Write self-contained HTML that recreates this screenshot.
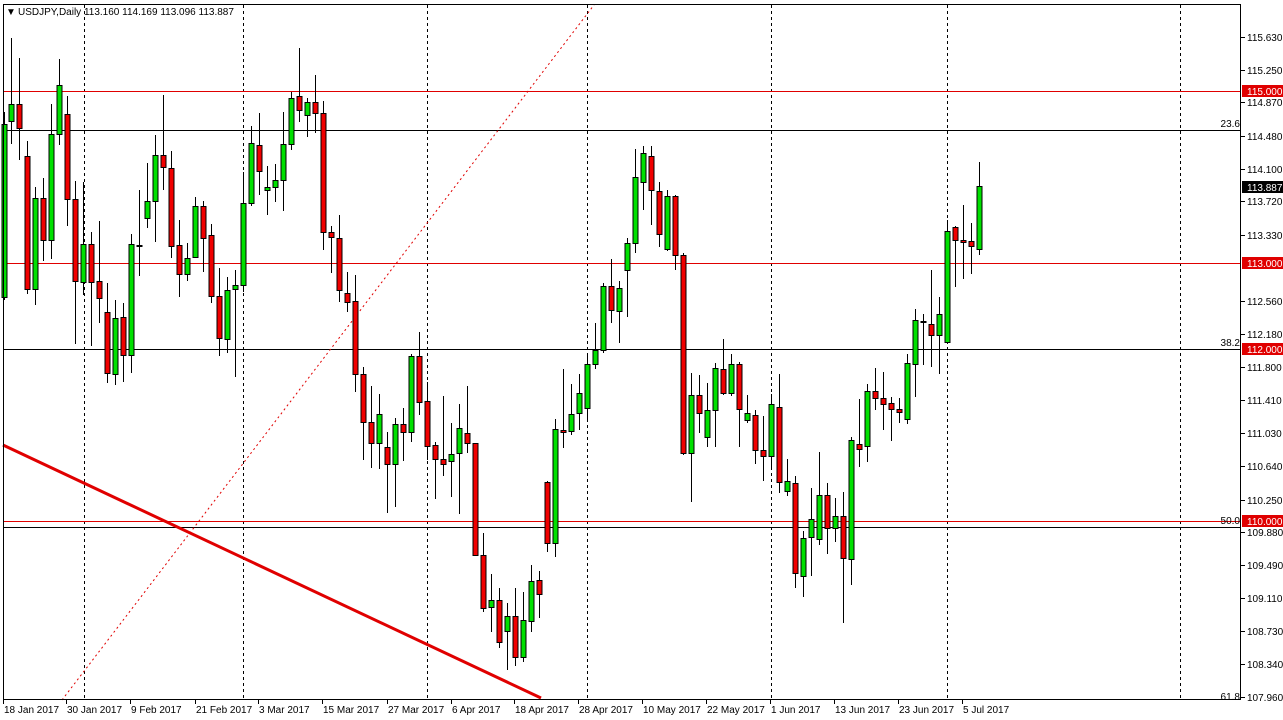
<!DOCTYPE html>
<html><head><meta charset="utf-8"><style>
body{margin:0;background:#fff;}
svg{display:block;font-family:"Liberation Sans",sans-serif;}
</style></head><body>
<svg id="c" width="1283" height="720" xmlns="http://www.w3.org/2000/svg">
<rect width="1283" height="720" fill="#fff"/>
<g id="grid"></g>
<line x1="3" y1="91.5" x2="1241" y2="91.5" stroke="#e00000" stroke-width="1"/>
<line x1="3" y1="130.5" x2="1241" y2="130.5" stroke="#000" stroke-width="1"/>
<line x1="3" y1="263.5" x2="1241" y2="263.5" stroke="#e00000" stroke-width="1"/>
<line x1="3" y1="349.5" x2="1241" y2="349.5" stroke="#000" stroke-width="1"/>
<line x1="3" y1="521.5" x2="1241" y2="521.5" stroke="#e00000" stroke-width="1"/>
<line x1="3" y1="527.5" x2="1241" y2="527.5" stroke="#000" stroke-width="1"/>
<line x1="62" y1="700" x2="594" y2="5" stroke="#e00000" stroke-width="1" stroke-dasharray="2,3"/>
<line x1="3" y1="445" x2="541" y2="698" stroke="#e00000" stroke-width="3"/>
<g id="candles"></g>
<rect x="3.5" y="4.5" width="1237" height="695" fill="none" stroke="#000"/>
<text x="1240" y="127" font-size="10" text-anchor="end">23.6</text>
<text x="1240" y="346" font-size="10" text-anchor="end">38.2</text>
<text x="1240" y="524" font-size="10" text-anchor="end">50.0</text>
<text x="1240" y="700" font-size="10" text-anchor="end">61.8</text>
<g id="axis" font-size="10"></g>
<text x="6" y="15" font-size="10">▼</text>
<text x="18" y="15" font-size="10">USDJPY,Daily  113.160 114.169 113.096 113.887</text>
</svg>
<script>
var NS="http://www.w3.org/2000/svg";
function el(p,t,a,txt){var e=document.createElementNS(NS,t);for(var k in a)e.setAttribute(k,a[k]);if(txt!=null)e.textContent=txt;p.appendChild(e);return e;}
var grid=document.getElementById('grid');
[84,243,427,587,771,947,1180].forEach(function(x){el(grid,'line',{x1:x+.5,y1:5,x2:x+.5,y2:700,stroke:'#000','stroke-dasharray':'3,3'});});
var C=[
[4,112,124,297,300,'g'],[11,38,104,121,144,'g'],[19,58,104,128,160,'r'],[27,141,156,289,294,'r'],[35,187,198,289,305,'g'],
[43,178,198,240,261,'r'],[51,104,134,240,259,'g'],[59,59,85,134,145,'g'],[67,96,114,199,226,'r'],[75,181,199,281,344,'r'],
[83,182,244,282,295,'g'],[91,232,244,282,346,'r'],[99,221,281,298,323,'r'],[107,283,312,373,383,'r'],[115,300,318,374,385,'g'],
[123,303,317,355,382,'r'],[131,234,244,355,373,'g'],[139,190,245,246,276,'r'],[147,163,201,218,228,'g'],[155,135,155,201,242,'g'],
[163,95,155,167,190,'r'],[171,151,168,246,258,'r'],[179,220,245,274,297,'r'],[187,243,258,274,281,'g'],[195,197,206,257,258,'g'],
[203,201,206,238,272,'r'],[211,224,235,296,303,'r'],[219,268,296,338,356,'r'],[227,277,290,339,353,'g'],[235,270,285,289,377,'g'],
[243,172,203,285,292,'g'],[251,126,143,203,206,'g'],[259,113,145,171,195,'r'],[267,166,187,190,215,'g'],[275,164,180,187,202,'g'],
[283,112,144,180,211,'g'],[291,92,98,144,150,'g'],[299,48,96,110,122,'r'],[307,98,102,115,137,'g'],[315,75,102,113,133,'r'],
[323,101,113,232,250,'r'],[331,226,232,237,273,'r'],[339,215,238,290,302,'r'],[347,272,293,302,312,'r'],[355,275,301,374,392,'r'],
[363,367,374,422,460,'r'],[371,386,422,443,468,'r'],[379,394,414,443,469,'g'],[387,432,447,464,513,'r'],[395,418,424,464,507,'g'],
[403,408,424,432,461,'r'],[411,354,356,432,442,'g'],[419,332,356,402,415,'r'],[427,382,401,446,460,'r'],[435,442,445,459,499,'r'],
[443,396,459,464,476,'r'],[451,423,454,461,497,'g'],[459,404,428,453,514,'g'],[467,386,433,443,453,'r'],[475,443,443,555,555,'r'],
[483,533,555,608,612,'r'],[491,574,600,607,632,'g'],[499,588,600,642,648,'r'],[507,603,616,631,670,'g'],[515,588,616,657,666,'r'],
[523,592,620,657,662,'g'],[531,565,581,621,632,'g'],[539,571,580,594,618,'r'],[547,481,482,543,552,'r'],[555,419,429,543,557,'g'],
[563,369,430,432,448,'r'],[571,384,414,431,435,'g'],[579,374,393,413,430,'g'],[587,355,364,408,421,'g'],[595,323,350,364,369,'g'],
[603,283,286,350,353,'g'],[611,259,286,310,323,'r'],[619,281,288,311,343,'g'],[627,238,243,270,317,'g'],[635,149,177,243,253,'g'],
[643,146,153,182,210,'g'],[651,146,156,190,225,'r'],[659,182,191,234,247,'r'],[667,190,196,249,251,'g'],[675,195,196,255,270,'r'],
[683,253,255,453,455,'r'],[691,373,395,453,502,'g'],[699,375,395,413,433,'r'],[707,383,410,437,447,'g'],[715,363,368,410,447,'g'],
[723,339,369,393,395,'r'],[731,354,364,393,396,'g'],[739,362,364,409,447,'r'],[747,395,413,420,423,'g'],[755,410,415,450,464,'r'],
[763,416,450,456,481,'r'],[771,394,404,456,468,'g'],[779,374,407,482,493,'r'],[787,459,481,491,496,'g'],[795,476,483,573,588,'r'],
[803,531,538,576,597,'g'],[811,488,519,537,576,'g'],[819,452,495,539,545,'g'],[827,483,495,528,554,'r'],[835,498,516,528,542,'g'],
[843,492,516,558,623,'r'],[851,437,440,559,585,'g'],[859,399,444,449,467,'r'],[867,384,391,446,462,'g'],[875,368,391,398,410,'r'],
[883,372,398,404,430,'r'],[891,397,403,409,441,'r'],[899,398,409,412,423,'r'],[907,354,363,419,424,'g'],[915,309,320,364,397,'g'],
[923,314,321,322,365,'r'],[931,270,324,335,367,'r'],[939,297,314,335,374,'g'],[947,220,231,342,343,'g'],[955,226,227,240,287,'r'],
[963,205,240,242,279,'r'],[971,223,241,246,274,'r'],[979,162,186,249,255,'g']];
var cg=document.getElementById('candles');
C.forEach(function(c){
 el(cg,'line',{x1:c[0]+.5,y1:c[1],x2:c[0]+.5,y2:c[4],stroke:'#000','stroke-width':1});
 var h=Math.max(c[3]-c[2],1);
 el(cg,'rect',{x:c[0]-2,y:c[2]+.5,width:5,height:h,fill:c[5]=='g'?'#00e000':'#f00000',stroke:'#000','stroke-width':1});
});
var ax=document.getElementById('axis');
function py(p){return 37+(115.63-p)*86.05;}
["115.630","115.250","114.870","114.480","114.100","113.720","113.330","112.560","112.180","111.800","111.410","111.030","110.640","110.250","109.880","109.490","109.110","108.730","108.340","107.960"].forEach(function(s){
 var y=Math.round(py(parseFloat(s)));
 el(ax,'line',{x1:1241,y1:y+.5,x2:1245,y2:y+.5,stroke:'#000'});
 el(ax,'text',{x:1247,y:y+4},s);
});
[[115,'115.000','#e00000'],[113,'113.000','#e00000'],[112,'112.000','#e00000'],[110,'110.000','#e00000'],[113.887,'113.887','#000']].forEach(function(a){
 var y=Math.round(py(a[0]));
 el(ax,'rect',{x:1242,y:y-6,width:41,height:12,fill:a[2]});
 el(ax,'text',{x:1247,y:y+4,fill:'#fff'},a[1]);
});
[[3,"18 Jan 2017"],[66,"30 Jan 2017"],[130,"9 Feb 2017"],[195,"21 Feb 2017"],[258,"3 Mar 2017"],[322,"15 Mar 2017"],[387,"27 Mar 2017"],[451,"6 Apr 2017"],[514,"18 Apr 2017"],[578,"28 Apr 2017"],[642,"10 May 2017"],[706,"22 May 2017"],[770,"1 Jun 2017"],[834,"13 Jun 2017"],[898,"23 Jun 2017"],[962,"5 Jul 2017"]].forEach(function(d){
 el(ax,'line',{x1:d[0]+.5,y1:700,x2:d[0]+.5,y2:704,stroke:'#000'});
 el(ax,'text',{x:d[0]+1,y:713},d[1]);
});
</script>
</body></html>
